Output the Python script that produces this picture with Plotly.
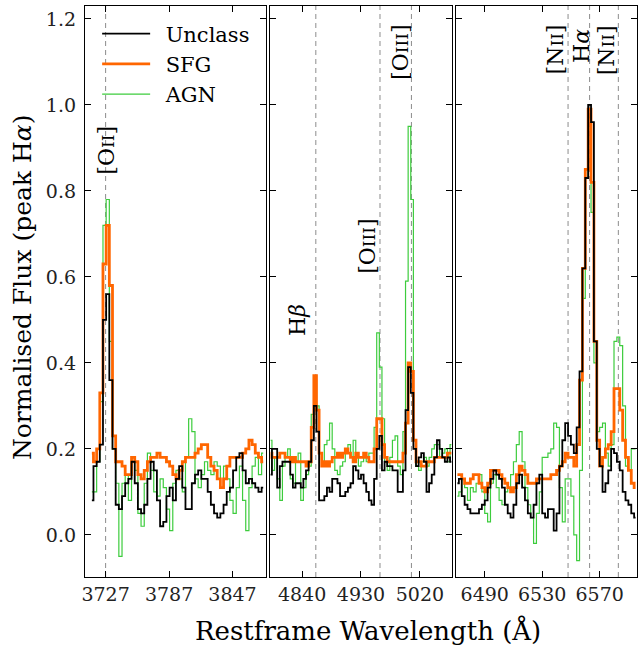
import plotly.graph_objects as go

# === Restframe wavelength grids (Angstrom) for the three cut-outs ===
wave_oii = [3714, 3717, 3720, 3723, 3726, 3729, 3732, 3735, 3738, 3741,
            3744, 3747, 3750, 3753, 3756, 3759, 3762, 3765, 3768, 3771,
            3774, 3777, 3780, 3783, 3786, 3789, 3792, 3795, 3798, 3801,
            3804, 3807, 3810, 3813, 3816, 3819, 3822, 3825, 3828, 3831,
            3834, 3837, 3840, 3843, 3846, 3849, 3852, 3855, 3858, 3861,
            3864, 3867, 3870, 3873, 3876]
wave_hb = [4792, 4796, 4800, 4804, 4808, 4812, 4816, 4820, 4824, 4828,
           4832, 4836, 4840, 4844, 4848, 4852, 4856, 4860, 4864, 4868,
           4872, 4876, 4880, 4884, 4888, 4892, 4896, 4900, 4904, 4908,
           4912, 4916, 4920, 4924, 4928, 4932, 4936, 4940, 4944, 4948,
           4952, 4956, 4960, 4964, 4968, 4972, 4976, 4980, 4984, 4988,
           4992, 4996, 5000, 5004, 5008, 5012, 5016, 5020, 5024, 5028,
           5032, 5036, 5040, 5044, 5048, 5052, 5056, 5060, 5064, 5068]
wave_ha = [6471, 6473, 6475, 6477, 6479, 6481, 6483, 6485, 6487, 6489,
           6491, 6493, 6495, 6497, 6499, 6501, 6503, 6505, 6507, 6509,
           6511, 6513, 6515, 6517, 6519, 6521, 6523, 6525, 6527, 6529,
           6531, 6533, 6535, 6537, 6539, 6541, 6543, 6545, 6547, 6549,
           6551, 6553, 6555, 6557, 6559, 6561, 6563, 6565, 6567, 6569,
           6571, 6573, 6575, 6577, 6579, 6581, 6583, 6585, 6587, 6589,
           6591, 6593, 6595]

# === Normalised flux (peak H-alpha = 1) ===
unclass_oii = [0.08, 0.16, 0.17, 0.21, 0.50, 0.56, 0.36, 0.20, 0.07, 0.06,
               0.09, 0.12, 0.13, 0.17, 0.12, 0.06, 0.05, 0.07, 0.13, 0.17,
               0.15, 0.08, 0.02, 0.03, 0.09, 0.11, 0.08, 0.13, 0.16, 0.11,
               0.06, 0.06, 0.12, 0.14, 0.15, 0.13, 0.13, 0.10, 0.07, 0.05,
               0.04, 0.05, 0.07, 0.10, 0.11, 0.15, 0.18, 0.19, 0.15, 0.12,
               0.13, 0.12, 0.11, 0.10, 0.11]
sfg_oii = [0.19, 0.17, 0.20, 0.33, 0.63, 0.72, 0.58, 0.23, 0.17, 0.17,
           0.16, 0.14, 0.14, 0.18, 0.17, 0.14, 0.13, 0.15, 0.17, 0.18,
           0.18, 0.19, 0.18, 0.18, 0.17, 0.16, 0.14, 0.13, 0.15, 0.17,
           0.18, 0.18, 0.18, 0.19, 0.20, 0.21, 0.21, 0.18, 0.16, 0.15,
           0.13, 0.11, 0.13, 0.16, 0.18, 0.18, 0.18, 0.18, 0.19, 0.20,
           0.22, 0.21, 0.19, 0.18, 0.17]
agn_oii = [0.10, 0.10, 0.17, 0.31, 0.72, 0.78, 0.45, 0.20, 0.12, -0.05,
           0.12, 0.14, 0.08, 0.18, 0.15, 0.05, 0.02, 0.12, 0.19, 0.15,
           0.10, 0.09, 0.13, 0.11, 0.06, 0.01, 0.12, 0.15, 0.13, 0.10,
           0.18, 0.27, 0.24, 0.13, 0.11, 0.14, 0.17, 0.15, 0.14, 0.17,
           0.16, 0.11, 0.16, 0.13, 0.08, 0.05, 0.11, 0.16, 0.08, 0.01,
           0.11, 0.16, 0.18, 0.14, 0.19]

unclass_hb = [0.14, 0.20, 0.20, 0.11, 0.16, 0.17, 0.17, 0.17, 0.14, 0.11,
              0.12, 0.12, 0.11, 0.13, 0.15, 0.17, 0.22, 0.30, 0.24, 0.08,
              0.08, 0.09, 0.11, 0.10, 0.13, 0.13, 0.12, 0.09, 0.09, 0.10,
              0.11, 0.12, 0.16, 0.15, 0.13, 0.14, 0.12, 0.10, 0.08, 0.07,
              0.13, 0.20, 0.23, 0.15, 0.17, 0.16, 0.16, 0.15, 0.15, 0.10,
              0.10, 0.15, 0.29, 0.39, 0.33, 0.20, 0.16, 0.18, 0.19, 0.17,
              0.10, 0.12, 0.14, 0.18, 0.22, 0.20, 0.18, 0.17, 0.18, 0.17]
sfg_hb = [0.19, 0.18, 0.18, 0.18, 0.19, 0.19, 0.18, 0.18, 0.17, 0.18,
          0.17, 0.17, 0.17, 0.17, 0.16, 0.17, 0.25, 0.37, 0.29, 0.19,
          0.16, 0.17, 0.16, 0.17, 0.18, 0.18, 0.19, 0.18, 0.19, 0.20,
          0.19, 0.18, 0.17, 0.19, 0.18, 0.18, 0.19, 0.18, 0.17, 0.17,
          0.20, 0.27, 0.27, 0.21, 0.18, 0.17, 0.17, 0.17, 0.17, 0.17,
          0.17, 0.19, 0.26, 0.40, 0.38, 0.22, 0.17, 0.17, 0.16, 0.16,
          0.17, 0.17, 0.17, 0.18, 0.18, 0.18, 0.18, 0.18, 0.19, 0.19]
agn_hb = [0.22, 0.15, 0.18, 0.13, 0.08, 0.16, 0.18, 0.20, 0.13, 0.12,
          0.17, 0.19, 0.08, 0.11, 0.14, 0.16, 0.28, 0.35, 0.30, 0.19,
          0.16, 0.21, 0.22, 0.26, 0.20, 0.15, 0.14, 0.16, 0.17, 0.19,
          0.21, 0.18, 0.22, 0.19, 0.16, 0.17, 0.19, 0.17, 0.19, 0.19,
          0.25, 0.47, 0.39, 0.27, 0.17, 0.15, 0.18, 0.22, 0.23, 0.16,
          0.14, 0.24, 0.59, 0.95, 0.78, 0.22, 0.16, 0.15, 0.17, 0.18,
          0.16, 0.18, 0.20, 0.21, 0.21, 0.18, 0.19, 0.20, 0.17, 0.21]

unclass_ha = [0.12, 0.13, 0.09, 0.07, 0.06, 0.05, 0.05, 0.05, 0.06, 0.07,
              0.08, 0.11, 0.13, 0.15, 0.14, 0.13, 0.11, 0.07, 0.05, 0.04,
              0.07, 0.12, 0.14, 0.11, 0.08, 0.05, 0.04, 0.07, 0.12, 0.14,
              0.05, 0.04, 0.06, 0.06, 0.01, 0.05, 0.16, 0.22, 0.26, 0.23,
              0.21, 0.19, 0.25, 0.38, 0.62, 0.83, 1.00, 0.96, 0.45, 0.20,
              0.16, 0.10, 0.12, 0.15, 0.20, 0.19, 0.17, 0.15, 0.10, 0.08,
              0.07, 0.05, 0.04]
sfg_ha = [0.14, 0.14, 0.13, 0.12, 0.12, 0.13, 0.14, 0.14, 0.12, 0.11,
          0.10, 0.12, 0.15, 0.15, 0.15, 0.14, 0.13, 0.12, 0.11, 0.10,
          0.11, 0.14, 0.16, 0.15, 0.14, 0.12, 0.12, 0.12, 0.13, 0.13,
          0.13, 0.13, 0.13, 0.14, 0.14, 0.15, 0.16, 0.17, 0.19, 0.18,
          0.18, 0.16, 0.21, 0.36, 0.62, 0.85, 0.99, 0.82, 0.45, 0.22,
          0.16, 0.18, 0.20, 0.21, 0.24, 0.34, 0.34, 0.29, 0.22, 0.18,
          0.15, 0.12, 0.11]
agn_ha = [0.09, 0.10, 0.13, 0.11, 0.08, 0.11, 0.10, 0.12, 0.14, 0.10,
          0.05, 0.03, 0.12, 0.14, 0.11, 0.08, 0.07, 0.10, 0.11, 0.14,
          0.17, 0.21, 0.24, 0.17, 0.11, 0.07, 0.04, -0.02, 0.05, 0.10,
          0.18, 0.18, 0.19, 0.20, 0.26, 0.25, 0.11, 0.03, 0.13, 0.13,
          0.09, 0.00, -0.06, 0.15, 0.55, 0.83, 0.97, 0.75, 0.40, 0.24,
          0.25, 0.26, 0.19, 0.16, 0.21, 0.45, 0.46, 0.44, 0.30, 0.16,
          0.15, 0.20, 0.20]

# emission line centres (dashed lines) and x tick positions per panel
lines_oii = [3727]
lines_hb = [4861, 4959, 5007]
lines_ha = [6548, 6563, 6583]
ticks_oii = [3727, 3787, 3847]
ticks_hb = [4840, 4930, 5020]
ticks_ha = [6490, 6530, 6570]
ticks_y = [0.0, 0.2, 0.4, 0.6, 0.8, 1.0, 1.2]

FONT = "DejaVu Serif"
colors = {"Unclass": "black", "SFG": "#ff6600", "AGN": "#3dcc3d"}
widths = {"Unclass": 1.8, "SFG": 2.8, "AGN": 1.2}
ranks = {"Unclass": 1, "SFG": 2, "AGN": 3}

panels = [
    ("x", "y", wave_oii, {"Unclass": unclass_oii, "SFG": sfg_oii, "AGN": agn_oii}, lines_oii),
    ("x2", "y2", wave_hb, {"Unclass": unclass_hb, "SFG": sfg_hb, "AGN": agn_hb}, lines_hb),
    ("x3", "y3", wave_ha, {"Unclass": unclass_ha, "SFG": sfg_ha, "AGN": agn_ha}, lines_ha),
]

fig = go.Figure()

# green underneath, black on top
for n, (xa, ya, wave, series, lines) in enumerate(panels):
    for name in ["AGN", "SFG", "Unclass"]:
        fig.add_trace(go.Scatter(
            x=wave, y=series[name], mode="lines", name="\u2002" + name,
            line=dict(shape="hvh", color=colors[name], width=widths[name]),
            legendrank=ranks[name], showlegend=(n == 0),
            xaxis=xa, yaxis=ya, hoverinfo="skip"))
    for lam in lines:
        fig.add_shape(type="line", xref=xa, yref=ya + " domain", x0=lam, x1=lam, y0=0, y1=1,
                      line=dict(color="#8c8c8c", width=1, dash="5px,4px"), layer="below")

axis_style = dict(showline=True, linecolor="black", linewidth=1.3, mirror="allticks",
                  ticks="inside", ticklen=6, tickwidth=1.2, tickcolor="black",
                  showgrid=False, zeroline=False,
                  tickfont=dict(family=FONT, size=19, color="#222222"))

fig.update_layout(
    width=638, height=648,
    margin=dict(l=85, r=1, t=6, b=71),
    plot_bgcolor="white", paper_bgcolor="white",
    xaxis=dict(domain=[0, 0.328], range=[3707.5, 3878.7], tickvals=ticks_oii, anchor="y", **axis_style),
    xaxis2=dict(domain=[0.3351, 0.6649], range=[4791, 5069], tickvals=ticks_hb, anchor="y2", **axis_style),
    xaxis3=dict(domain=[0.6721, 1.0], range=[6470, 6596], tickvals=ticks_ha, anchor="y3", **axis_style),
    yaxis=dict(range=[-0.098, 1.23], tickvals=ticks_y, tickformat=".1f", anchor="x",
               ticklabelstandoff=4, **axis_style),
    yaxis2=dict(matches="y", tickvals=ticks_y, showticklabels=False, anchor="x2", **axis_style),
    yaxis3=dict(matches="y", tickvals=ticks_y, showticklabels=False, anchor="x3", **axis_style),
    legend=dict(x=0.022, y=0.987, xanchor="left", yanchor="top", bgcolor="rgba(0,0,0,0)",
                font=dict(family=FONT, size=21, color="black"), itemwidth=48, tracegroupgap=0),
    showlegend=True,
)

# line identifications, rotated like the original
sc = "<span style='font-size:17px'>{}</span>"
labels = [
    ("x", "y", 3727, 0.895, "[O" + sc.format("II") + "]"),
    ("x2", "y2", 4834, 0.50, "H<i>β</i>"),
    ("x2", "y2", 4940.6, 0.672, "[O" + sc.format("III") + "]"),
    ("x2", "y2", 4989.4, 1.123, "[O" + sc.format("III") + "]"),
    ("x3", "y3", 6539.3, 1.128, "[N" + sc.format("II") + "]"),
    ("x3", "y3", 6557.4, 1.136, "H<i>α</i>"),
    ("x3", "y3", 6574.7, 1.128, "[N" + sc.format("II") + "]"),
]
for xa, ya, xv, yv, txt in labels:
    fig.add_annotation(x=xv, y=yv, xref=xa, yref=ya, text=txt, textangle=-90,
                       showarrow=False, font=dict(family=FONT, size=22, color="black"))

# shared axis titles
fig.add_annotation(x=0.513, y=-0.093, xref="paper", yref="paper", text="Restframe Wavelength (Å)",
                   showarrow=False, xanchor="center", yanchor="middle",
                   font=dict(family=FONT, size=26, color="black"))
fig.add_annotation(x=-0.112, y=0.508, xref="paper", yref="paper", text="Normalised Flux (peak H<i>α</i>)",
                   showarrow=False, textangle=-90, xanchor="center", yanchor="middle",
                   font=dict(family=FONT, size=25, color="black"))

# page body margin would otherwise shift the 638x648 figure by 8px
fig.write_html("out.html", config={"displayModeBar": False},
               post_script="document.body.style.margin='0';")
